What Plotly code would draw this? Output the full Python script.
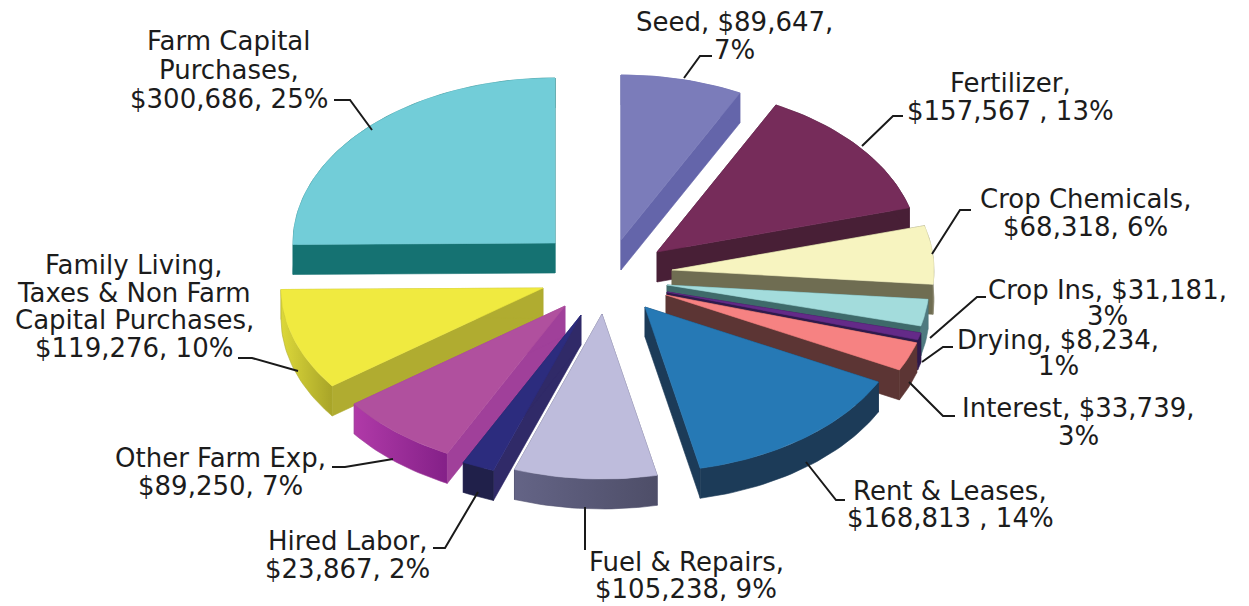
import math
import plotly.graph_objects as go

categories = ["Seed", "Fertilizer", "Crop Chemicals", "Crop Ins", "Drying", "Interest",
              "Rent & Leases", "Fuel & Repairs", "Hired Labor", "Other Farm Exp",
              "Family Living, Taxes & Non Farm Capital Purchases", "Farm Capital Purchases"]
values = [89647, 157567, 68318, 31181, 8234, 33739, 168813, 105238, 23867, 89250, 119276, 300686]

# Styling and layout (exploded hub of each slice in pixels)
hub_x = [621, 657, 672, 667, 667, 666, 645, 602, 581, 565, 543, 555]
hub_y = [240, 252, 270, 285, 292, 295, 307, 314, 315, 306, 288, 243]
top_colors = ["#7b7cba", "#762c5a", "#f7f4c0", "#a3dcdc", "#642a88", "#f68282",
              "#2679b5", "#bebcdc", "#2c2c7e", "#b0509e", "#f0ea40", "#72cdd8"]
radial_colors = ["#6465aa", "#481f36", "#6f6d52", "#3e6a6a", "#2f1a4c", "#5c3534",
                 "#1c3b58", "#50506f", "#302a68", "#a0409a", "#b0ac30", "#157272"]
arc_colors = ["#6465aa", "#481f36", "#8a8870", "#4f7a80", "#2f1a4c", "#5c3534",
              "#1c3b58", None, "#20204a", None, None, "#157272"]
arc_gradients = {7: ["#646486", "#4e4e68"], 9: ["#b03aa8", "#842088"], 10: ["#dcd83a", "#a8a428"]}
RX, RY, DEPTH = 262, 165, 30

# centre x, first-line y, line spacing, lines
texts = [
    (734, 22, 28, ["Seed, $89,647,", "7%"]),
    (1010, 83, 28, ["Fertilizer,", "$157,567 , 13%"]),
    (1085, 199, 28, ["Crop Chemicals,", "$68,318, 6%"]),
    (1107, 290, 26, ["Crop Ins, $31,181,", "3%"]),
    (1058, 340, 26, ["Drying, $8,234,", "1%"]),
    (1078, 408, 28, ["Interest, $33,739,", "3%"]),
    (950, 491, 27, ["Rent & Leases,", "$168,813 , 14%"]),
    (686, 562, 27, ["Fuel & Repairs,", "$105,238, 9%"]),
    (347, 541, 28, ["Hired Labor,", "$23,867, 2%"]),
    (220, 458, 28, ["Other Farm Exp,", "$89,250, 7%"]),
    (134, 265, 27.7, ["Family Living,", "Taxes & Non Farm", "Capital Purchases,", "$119,276, 10%"]),
    (229, 41, 29, ["Farm Capital", "Purchases,", "$300,686, 25%"]),
]
leaders = [
    ([684, 700, 712], [78, 56, 56]),
    ([862, 893, 903], [146, 116, 116]),
    ([932, 960, 971], [254, 210, 210]),
    ([930, 977, 986], [338, 297, 297]),
    ([922, 943, 953], [362, 347, 347]),
    ([909, 943, 955], [382, 416, 416]),
    ([806, 836, 845], [462, 500, 500]),
    ([585, 585], [507, 550]),
    ([478, 445, 433], [492, 548, 548]),
    ([393, 345, 332], [459, 467, 467]),
    ([298, 252, 238], [371, 358, 358]),
    ([372, 350, 334], [130, 100, 100]),
]

total = sum(values)
fig = go.Figure()


def add_poly(xs, ys, color, gradient=None, line=None):
    kw = dict(x=xs, y=ys, mode="lines", hoverinfo="skip", showlegend=False,
              line=dict(color=line or color, width=0.6), fill="toself")
    if gradient:
        kw["fillgradient"] = dict(type="horizontal",
                                  colorscale=[[0, gradient[0]], [1, gradient[1]]])
    else:
        kw["fillcolor"] = color
    fig.add_trace(go.Scatter(**kw))


bounds = []
acc = 0
for v in values:
    bounds.append((acc / total * 2 * math.pi, (acc + v) / total * 2 * math.pi))
    acc += v

order = sorted(range(len(values)), key=lambda i: hub_y[i])
for i in order:
    a0, a1 = bounds[i]
    cx, cy = hub_x[i], hub_y[i]
    n = max(3, int((a1 - a0) * 40))
    angles = [a0 + (a1 - a0) * k / n for k in range(n + 1)]
    ax = [cx + RX * math.sin(t) for t in angles]
    ay = [cy - RY * math.cos(t) for t in angles]
    # radial cut faces
    for ex, ey in ((ax[0], ay[0]), (ax[-1], ay[-1])):
        add_poly([cx, ex, ex, cx, cx], [cy, ey, ey + DEPTH, cy + DEPTH, cy], radial_colors[i])
    # outer rim
    add_poly(ax + ax[::-1] + [ax[0]], ay + [y + DEPTH for y in ay[::-1]] + [ay[0]],
             arc_colors[i] or radial_colors[i], arc_gradients.get(i))
    # top face
    add_poly([cx] + ax + [cx], [cy] + ay + [cy], top_colors[i])

for lx, ly in leaders:
    fig.add_trace(go.Scatter(x=lx, y=ly, mode="lines", hoverinfo="skip", showlegend=False,
                             line=dict(color="#1a1a1a", width=2)))

for x, y0, gap, lines in texts:
    for k, t in enumerate(lines):
        fig.add_annotation(x=x, y=y0 + k * gap, text=t, showarrow=False, xanchor="center", yanchor="middle",
                           font=dict(family="DejaVu Sans", size=26, color="#1c1c1c"))

fig.update_layout(
    width=1249, height=606, margin=dict(l=0, r=0, t=0, b=0),
    paper_bgcolor="white", plot_bgcolor="white", showlegend=False,
    xaxis=dict(range=[0, 1249], visible=False, fixedrange=True),
    yaxis=dict(range=[606, 0], visible=False, fixedrange=True),
)
fig.write_html("out.html", config={"displayModeBar": False},
               post_script="document.body.style.margin='0';document.body.style.overflow='hidden';")
